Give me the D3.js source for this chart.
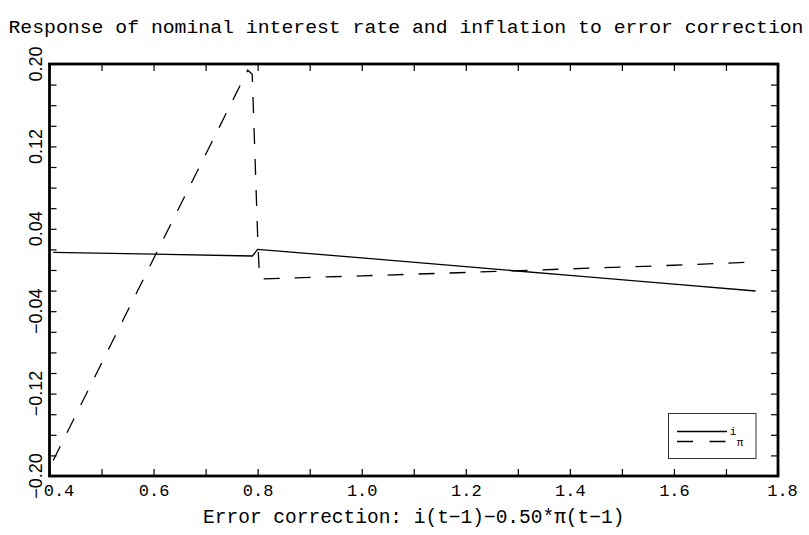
<!DOCTYPE html>
<html>
<head>
<meta charset="utf-8">
<script src="https://cdn.jsdelivr.net/npm/d3@7/dist/d3.min.js"></script>
<style>
  html, body { margin: 0; padding: 0; background: #fff; }
  svg { display: block; }
</style>
</head>
<body>
<svg id="chart" width="809" height="535"></svg>
<script>
// ---- data ----
const titleText = "Response of nominal interest rate and inflation to error correction";
const xTitleText = "Error correction: i(t\u22121)\u22120.50*\u03c0(t\u22121)";

const xTickValues = [0.4, 0.5, 0.6, 0.7, 0.8, 0.9, 1.0, 1.1, 1.2, 1.3, 1.4, 1.5, 1.6, 1.7, 1.8];
const xTickLabels = ["0.4", "", "0.6", "", "0.8", "", "1.0", "", "1.2", "", "1.4", "", "1.6", "", "1.8"];
const yTickValues = [0.20, 0.18, 0.16, 0.14, 0.12, 0.10, 0.08, 0.06, 0.04, 0.02, 0.00,
                     -0.02, -0.04, -0.06, -0.08, -0.10, -0.12, -0.14, -0.16, -0.18, -0.20];
const yLabelValues = [0.20, 0.12, 0.04, -0.04, -0.12, -0.20];
const yLabelTexts = ["0.20", "0.12", "0.04", "\u22120.04", "\u22120.12", "\u22120.20"];

// series i (solid)
const iX = [0.407, 0.60, 0.790, 0.800, 1.00, 1.20, 1.40, 1.60, 1.757];
const iY = [0.0172, 0.0155, 0.0136, 0.0200, 0.0118, 0.0032, -0.0053, -0.0137, -0.0204];
// series pi (dashed)
const piX = [0.407, 0.60, 0.781, 0.7896, 0.8008, 0.804, 1.00, 1.20, 1.40, 1.60, 1.757];
const piY = [-0.185, 0.011, 0.194, 0.190, 0.0213, -0.0087, -0.0057, -0.0024, 0.0011, 0.0046, 0.0078];

const legendLabels = ["i", "\u03c0"];

// ---- drawing ----
const svg = d3.select("#chart");
const L = 49.5, R = 778, T = 64, B = 476;

const x = d3.scaleLinear().domain([0.4, 1.8]).range([L, R]);
const y = d3.scaleLinear().domain([-0.2, 0.2]).range([B, T]);

// title
svg.append("text")
  .attr("x", 406).attr("y", 33)
  .attr("text-anchor", "middle")
  .attr("font-family", "Liberation Mono, monospace")
  .attr("font-size", 19)
  .attr("textLength", 795).attr("lengthAdjust", "spacingAndGlyphs")
  .text(titleText);

const tickStyle = g => {
  g.select(".domain").remove();
  g.selectAll(".tick line").attr("stroke", "#000").attr("stroke-width", 1.2);
};

// bottom axis (ticks inward, labels below)
const gB = svg.append("g").attr("transform", `translate(0,${B})`)
  .call(d3.axisBottom(x).tickValues(xTickValues).tickSize(-7).tickPadding(0)
    .tickFormat((d, i) => xTickLabels[i]));
tickStyle(gB);
gB.selectAll(".tick text")
  .attr("font-family", "Liberation Mono, monospace")
  .attr("font-size", 17)
  .attr("fill", "#000")
  .attr("y", 20)
  .attr("dy", 0)
  .attr("dx", (d, i) => i === 0 ? 9 : (i === xTickValues.length - 1 ? 4 : 0));

// top axis ticks
const gT = svg.append("g").attr("transform", `translate(0,${T})`)
  .call(d3.axisTop(x).tickValues(xTickValues).tickSize(-7).tickFormat(""));
tickStyle(gT);

// left axis ticks
const gL = svg.append("g").attr("transform", `translate(${L},0)`)
  .call(d3.axisLeft(y).tickValues(yTickValues).tickSize(-7).tickFormat(""));
tickStyle(gL);

// right axis ticks
const gR = svg.append("g").attr("transform", `translate(${R},0)`)
  .call(d3.axisRight(y).tickValues(yTickValues).tickSize(-7).tickFormat(""));
tickStyle(gR);

// y labels (rotated)
svg.append("g").selectAll("text")
  .data(yLabelValues)
  .join("text")
  .attr("transform", d => `translate(42,${y(d)}) rotate(-90)`)
  .attr("text-anchor", "middle")
  .attr("font-family", "Liberation Sans, Arial, sans-serif")
  .attr("font-size", 18)
  .attr("fill", "#000")
  .text((d, i) => yLabelTexts[i]);

// x title
svg.append("text")
  .attr("x", (L + R) / 2).attr("y", 523)
  .attr("text-anchor", "middle")
  .attr("font-family", "Liberation Mono, monospace")
  .attr("font-size", 19.5)
  .text(xTitleText);

// lines
const line = d3.line().x(d => x(d[0])).y(d => y(d[1]));
const iData = iX.map((v, k) => [v, iY[k]]);
const piData = piX.map((v, k) => [v, piY[k]]);

svg.append("path").datum(iData)
  .attr("d", line).attr("fill", "none")
  .attr("stroke", "#000").attr("stroke-width", 1.3);

svg.append("path").datum(piData)
  .attr("d", line).attr("fill", "none")
  .attr("stroke", "#000").attr("stroke-width", 1.3)
  .attr("stroke-dasharray", "16,15");

// frame
svg.append("rect")
  .attr("x", L).attr("y", T).attr("width", R - L).attr("height", B - T)
  .attr("fill", "none").attr("stroke", "#000").attr("stroke-width", 2.8);

// legend
const lg = svg.append("g");
lg.append("rect")
  .attr("x", 668.5).attr("y", 413.5).attr("width", 87.5).attr("height", 45)
  .attr("fill", "#fff").attr("stroke", "#333").attr("stroke-width", 1);
lg.append("line").attr("x1", 677).attr("x2", 727).attr("y1", 431.5).attr("y2", 431.5)
  .attr("stroke", "#000").attr("stroke-width", 1.3);
lg.append("line").attr("x1", 677).attr("x2", 726).attr("y1", 441.5).attr("y2", 441.5)
  .attr("stroke", "#000").attr("stroke-width", 1.3).attr("stroke-dasharray", "16,16.5");
lg.selectAll("text.lab").data(legendLabels).join("text")
  .attr("class", "lab")
  .attr("x", (d, i) => i === 0 ? 733 : 740)
  .attr("y", (d, i) => i === 0 ? 435 : 446)
  .attr("text-anchor", "middle")
  .attr("font-family", "Liberation Mono, monospace")
  .attr("font-size", 11)
  .text(d => d);
</script>
</body>
</html>
